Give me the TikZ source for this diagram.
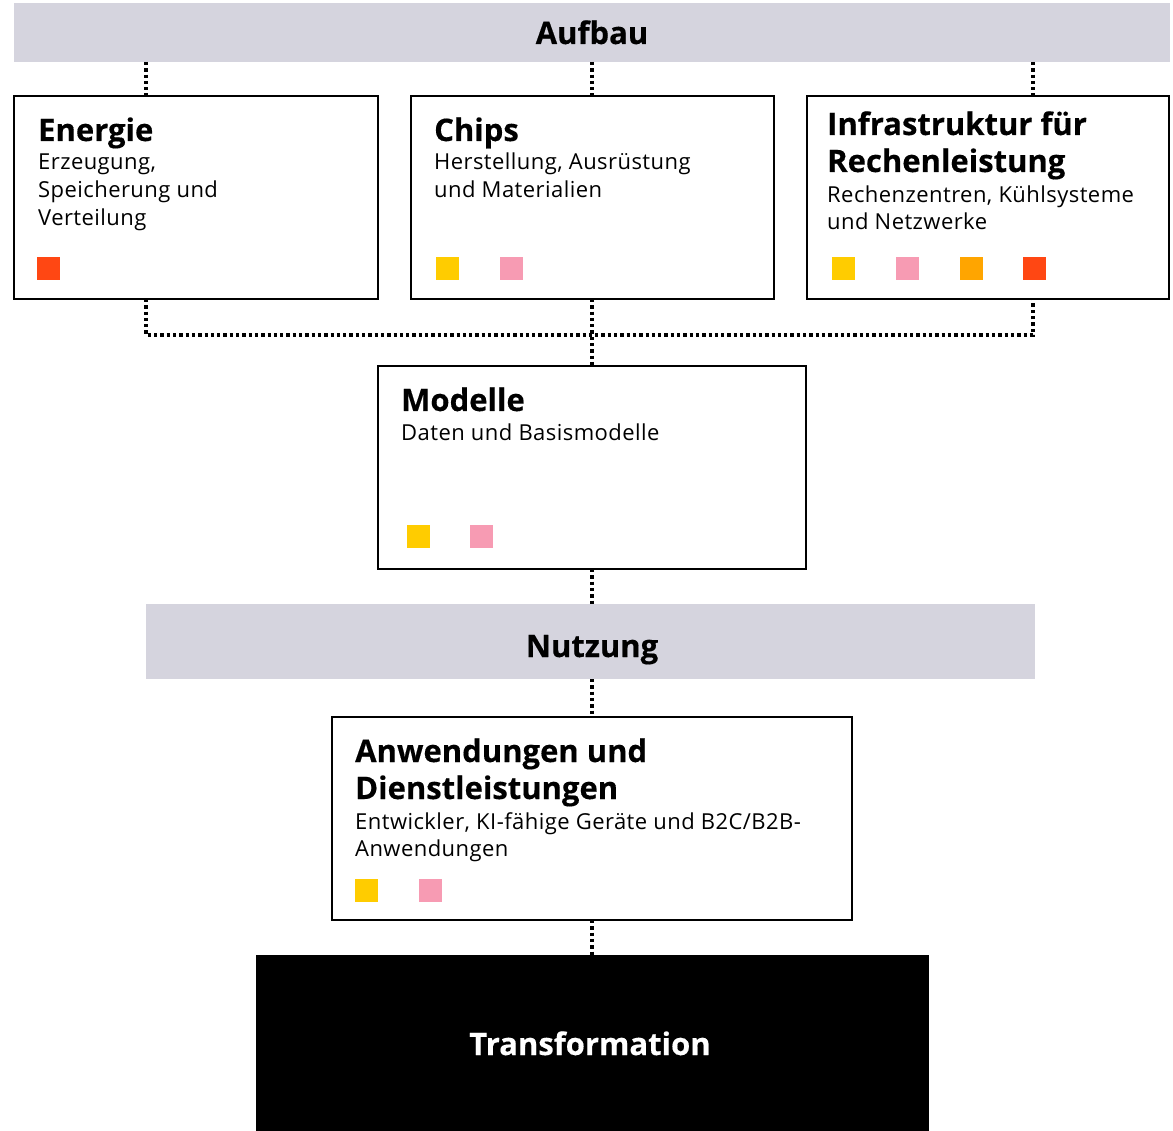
\documentclass[tikz,border=0pt]{standalone}
\usepackage{fontspec}
\setmainfont{Open Sans}
\newfontfamily\subfont[LetterSpace=2]{Open Sans}
\newfontfamily\ttlfont[FakeBold=0.4]{Open Sans Bold}
\definecolor{bandc}{HTML}{D5D4DE}
\definecolor{sqY}{HTML}{FFCC00}
\definecolor{sqP}{HTML}{F79BB3}
\definecolor{sqO}{HTML}{FFA500}
\definecolor{sqR}{HTML}{FF4713}
\tikzset{
  box/.style={draw, line width=2.5pt, fill=white, inner sep=0, outer sep=0, anchor=north west},
  bandbox/.style={fill=bandc, inner sep=0, outer sep=0, anchor=north west},
  ttl/.style={anchor=base west, inner sep=0, font=\ttlfont\fontsize{31}{36}\selectfont},
  sub/.style={anchor=base west, inner sep=0, font=\subfont\fontsize{22}{28}\selectfont},
  bandtxt/.style={anchor=base, inner sep=0, font=\ttlfont\fontsize{31}{36}\selectfont},
  sq/.style={minimum size=23pt, inner sep=0, outer sep=0, anchor=north west},
  dotline/.style={line width=3.5pt, dash pattern=on 3.3pt off 3pt}
}
\begin{document}
\begin{tikzpicture}[x=1pt,y=-1pt]
\useasboundingbox (0,0) rectangle (1173,1131);
% bands
\node[bandbox, minimum width=1156pt, minimum height=59pt] (aufbau) at (14,3) {};
\node[bandtxt] (aufbautxt) at (592,44) {Aufbau};
\node[bandbox, minimum width=889pt, minimum height=75pt] (nutzung) at (146,604) {};
\node[bandtxt] (nutzungtxt) at (592,657) {Nutzung};
\node[fill=black, inner sep=0, outer sep=0, anchor=north west, minimum width=673pt, minimum height=176pt] (trans) at (256,955) {};
\node[bandtxt, text=white] (transtxt) at (590,1055) {Transformation};
% boxes
\node[box, minimum width=364pt, minimum height=203pt] (energie) at (14,96) {};
\node[box, minimum width=363pt, minimum height=203pt] (chips) at (411,96) {};
\node[box, minimum width=362pt, minimum height=203pt] (infra) at (807,96) {};
\node[box, minimum width=428pt, minimum height=203pt] (modelle) at (378,366) {};
\node[box, minimum width=520pt, minimum height=203pt] (anw) at (332,717) {};
% texts
\node[ttl] (t1) at (38,141) {Energie};
\node[sub] (s1a) at (38,170) {Erzeugung,};
\node[sub] (s1b) at (38,198) {Speicherung und};
\node[sub] (s1c) at (38,226) {Verteilung};
\node[ttl] (t2) at (434,141) {Chips};
\node[sub] (s2a) at (434,170) {Herstellung, Ausrüstung};
\node[sub] (s2b) at (434,198) {und Materialien};
\node[ttl] (t3a) at (827,135) {Infrastruktur für};
\node[ttl] (t3b) at (827,172) {Rechenleistung};
\node[sub] (s3a) at (827,203) {Rechenzentren, Kühlsysteme};
\node[sub] (s3b) at (827,230) {und Netzwerke};
\node[ttl] (t4) at (401,411) {Modelle};
\node[sub] (s4a) at (401,441) {Daten und Basismodelle};
\node[ttl] (t5a) at (355,762) {Anwendungen und};
\node[ttl] (t5b) at (355,799) {Dienstleistungen};
\node[sub] (s5a) at (355,829) {Entwickler, KI-fähige Geräte und B2C/B2B-};
\node[sub] (s5b) at (355,856) {Anwendungen};
% squares
\node[sq, fill=sqR] (q1) at (37,257) {};
\node[sq, fill=sqY] (q2) at (436,257) {};
\node[sq, fill=sqP] (q3) at (500,257) {};
\node[sq, fill=sqY] (q4) at (832,257) {};
\node[sq, fill=sqP] (q5) at (896,257) {};
\node[sq, fill=sqO] (q6) at (960,257) {};
\node[sq, fill=sqR] (q7) at (1023,257) {};
\node[sq, fill=sqY] (q8) at (407,525) {};
\node[sq, fill=sqP] (q9) at (470,525) {};
\node[sq, fill=sqY] (q10) at (355,879) {};
\node[sq, fill=sqP] (q11) at (419,879) {};
% connectors
\coordinate (xL) at (146,0);
\coordinate (xM) at (592,0);
\coordinate (xR) at (1033,0);
\coordinate (yH) at (0,335);
\draw[dotline] (aufbau.south -| xL) -- (energie.north -| xL);
\draw[dotline] (aufbau.south -| xM) -- (chips.north -| xM);
\draw[dotline] (aufbau.south -| xR) -- (infra.north -| xR);
\draw[dotline] (energie.south -| xL) -- (xL |- yH) -- (xR |- yH) -- (infra.south -| xR);
\draw[dotline] (chips.south -| xM) -- (modelle.north -| xM);
\draw[dotline] (modelle.south -| xM) -- (nutzung.north -| xM);
\draw[dotline] (nutzung.south -| xM) -- (anw.north -| xM);
\draw[dotline] (anw.south -| xM) -- (trans.north -| xM);
\end{tikzpicture}
\end{document}
